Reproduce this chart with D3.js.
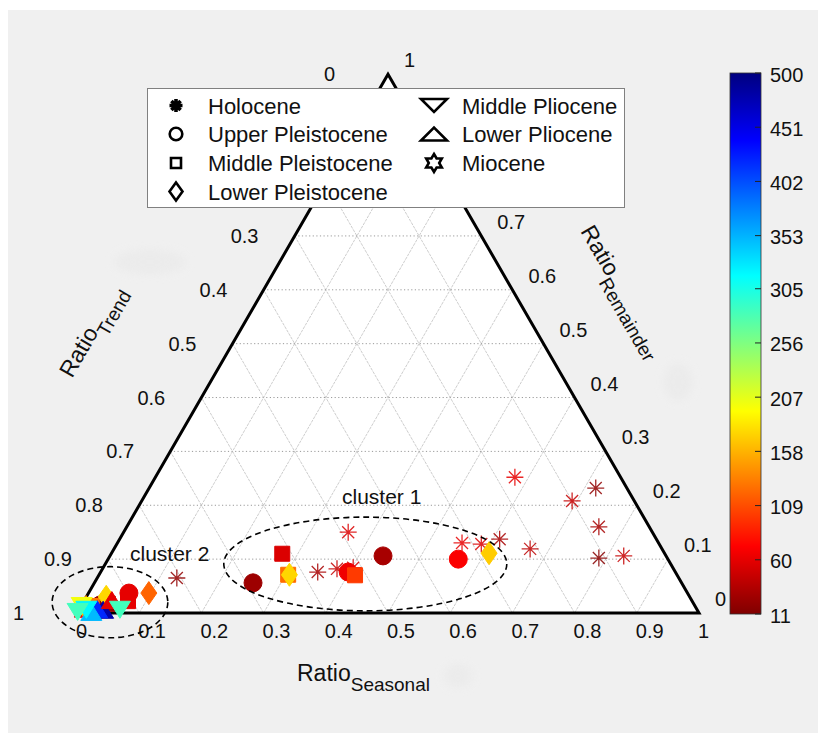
<!DOCTYPE html>
<html>
<head>
<meta charset="utf-8">
<script src="https://cdn.jsdelivr.net/npm/d3@7"></script>
<style>
  html, body { margin: 0; padding: 0; background: #ffffff; }
  svg { display: block; font-family: "Liberation Sans", Arial, sans-serif; }
</style>
</head>
<body>
<svg id="chart" width="826" height="738"></svg>
<script>
// Ternary compositions of the decomposed signal: [seasonal, trend, remainder, age (ka)]
const holocene = [
  [0.128, 0.807, 0.065, 20], [0.361, 0.489, 0.150, 55], [0.349, 0.575, 0.076, 30],
  [0.377, 0.541, 0.082, 45], [0.402, 0.514, 0.084, 50], [0.554, 0.316, 0.130, 60],
  [0.586, 0.286, 0.128, 55], [0.611, 0.252, 0.137, 30], [0.669, 0.212, 0.119, 40],
  [0.578, 0.170, 0.252, 60], [0.692, 0.100, 0.208, 45], [0.718, 0.050, 0.232, 20],
  [0.759, 0.081, 0.160, 30], [0.788, 0.110, 0.102, 15], [0.826, 0.068, 0.106, 45]
];
const upperPleistocene = [
  [0.255, 0.689, 0.056, 25], [0.439, 0.455, 0.106, 30], [0.398, 0.526, 0.076, 65],
  [0.563, 0.337, 0.100, 70], [0.065, 0.898, 0.037, 60], [0.030, 0.955, 0.015, 25]
];
const middlePleistocene = [
  [0.275, 0.615, 0.110, 55], [0.304, 0.625, 0.071, 125], [0.412, 0.518, 0.070, 100],
  [0.071, 0.907, 0.022, 60], [0.022, 0.965, 0.013, 130], [0.041, 0.942, 0.017, 20],
  [0.005, 0.989, 0.006, 70]
];
const lowerPleistocene = [
  [0.306, 0.623, 0.071, 175], [0.607, 0.282, 0.111, 170], [0.097, 0.866, 0.037, 120],
  [0.032, 0.938, 0.030, 175], [0.009, 0.980, 0.011, 140]
];
const lowerPliocene = [
  [0.039, 0.955, 0.006, 480], [0.029, 0.964, 0.007, 420], [0.044, 0.932, 0.024, 60],
  [0.022, 0.976, 0.002, 350]
];
const middlePliocene = [
  [0.001, 0.986, 0.013, 200], [0.012, 0.982, 0.006, 320], [0.000, 0.998, 0.002, 285],
  [0.066, 0.928, 0.006, 285]
];
const miocene = [
  [0.007, 0.984, 0.009, 150]
];

const epochNames = ["Holocene", "Upper Pleistocene", "Middle Pleistocene", "Lower Pleistocene",
                    "Middle Pliocene", "Lower Pliocene", "Miocene"];
const epochShapes = ["asterisk", "circle", "square", "diamond", "triangleDown", "triangleUp", "hexagram"];
const epochData = [holocene, upperPleistocene, middlePleistocene, lowerPleistocene,
                   middlePliocene, lowerPliocene, miocene];
// drawing order of the series (later ones sit on top)
const drawOrder = [0, 1, 2, 3, 6, 5, 4];

const axisTicks = [0, 0.1, 0.2, 0.3, 0.4, 0.5, 0.6, 0.7, 0.8, 0.9, 1];
const axisTickLabels = ["0", "0.1", "0.2", "0.3", "0.4", "0.5", "0.6", "0.7", "0.8", "0.9", "1"];
const ageRange = [11, 500];
const colorbarTicks = [11, 60, 109, 158, 207, 256, 305, 353, 402, 451, 500];

// cluster outlines: centre as [seasonal, remainder], radii in seasonal / remainder units
const clusterNames = ["cluster 1", "cluster 2"];
const clusterCentres = [[0.418, 0.091], [0.043, 0.020]];
const clusterRadii = [[0.2275, 0.087], [0.093, 0.066]];

// ---------------------------------------------------------------------------
const svg = d3.select("#chart");
const defs = svg.append("defs");
defs.append("filter").attr("id", "soft").attr("x", "-50%").attr("y", "-50%")
  .attr("width", "200%").attr("height", "200%")
  .append("feGaussianBlur").attr("stdDeviation", 5);

// figure background
svg.append("rect").attr("x", 8).attr("y", 10).attr("width", 810).attr("height", 723)
  .attr("fill", "#f0f0f0");
// faint worn patches on the backdrop
const patches = svg.append("g").attr("filter", "url(#soft)").attr("fill", "#e9e9e9")
  .attr("opacity", 0.7);
patches.append("ellipse").attr("cx", 150).attr("cy", 262).attr("rx", 36).attr("ry", 12);
patches.append("ellipse").attr("cx", 678).attr("cy", 382).attr("rx", 14).attr("ry", 18);
patches.append("ellipse").attr("cx", 458).attr("cy", 676).attr("rx", 14).attr("ry", 11);

// triangle geometry
const x0 = 77, side = 622, yBase = 613;
const height = side * Math.sqrt(3) / 2;
const xs = d3.scaleLinear().domain([0, 1]).range([x0, x0 + side]);
const ys = d3.scaleLinear().domain([0, 1]).range([yBase, yBase - height]);
// seasonal runs along the base, remainder toward the apex, trend toward bottom-left
const proj = (s, r) => [xs(s + r / 2), ys(r)];

const corners = [proj(0, 0), proj(1, 0), proj(0, 1)];
svg.append("polygon").attr("points", corners.map(p => p.join(",")).join(" "))
  .attr("fill", "#ffffff");

// grid
const grid = svg.append("g");
axisTicks.slice(1, -1).forEach(k => {
  // constant remainder: horizontal dotted
  const a = proj(0, k), b = proj(1 - k, k);
  grid.append("line").attr("x1", a[0]).attr("y1", a[1]).attr("x2", b[0]).attr("y2", b[1])
    .attr("stroke", "#9a9a9a").attr("stroke-width", 1).attr("stroke-dasharray", "1.2,2.4");
  // constant seasonal: parallel to left edge
  const c = proj(k, 0), d = proj(k, 1 - k);
  grid.append("line").attr("x1", c[0]).attr("y1", c[1]).attr("x2", d[0]).attr("y2", d[1])
    .attr("stroke", "#b8b8b8").attr("stroke-width", 0.7).attr("stroke-dasharray", "3,1");
  // constant trend: parallel to right edge
  const e = proj(1 - k, 0), f = proj(0, 1 - k);
  grid.append("line").attr("x1", e[0]).attr("y1", e[1]).attr("x2", f[0]).attr("y2", f[1])
    .attr("stroke", "#b8b8b8").attr("stroke-width", 0.7).attr("stroke-dasharray", "3,1");
});

// triangle outline
svg.append("polygon").attr("points", corners.map(p => p.join(",")).join(" "))
  .attr("fill", "none").attr("stroke", "#000").attr("stroke-width", 3)
  .attr("stroke-linejoin", "miter");

// legend box bounds (tick labels under it are not drawn)
const legendBox = { x: 147.5, y: 88.5, w: 477, h: 119 };
const underLegend = (x, y) => x > legendBox.x - 20 && x < legendBox.x + legendBox.w &&
                               y > legendBox.y && y < legendBox.y + legendBox.h + 14;

// tick labels
const labels = svg.append("g").attr("font-size", 20).attr("fill", "#111");
function tickLabel(x, y, txt) {
  if (underLegend(x, y)) return;
  labels.append("text").attr("x", x).attr("y", y).text(txt);
}
axisTicks.forEach((k, i) => {
  // seasonal (bottom)
  const pb = proj(k, 0);
  tickLabel(pb[0] - 1, pb[1] + 25, axisTickLabels[i]);
  // trend (left): trend k sits on the left edge at remainder 1-k
  const pl = proj(0, 1 - k);
  tickLabel(pl[0] - 64, pl[1] + 7, axisTickLabels[i]);
  // remainder (right)
  const pr = proj(1 - k, k);
  tickLabel(pr[0] + 16, pr[1] - 7, axisTickLabels[i]);
});

// axis titles
function axisTitle(g, main, sub) {
  const t = g.append("text").attr("font-size", 23).attr("fill", "#111");
  t.append("tspan").text(main);
  t.append("tspan").attr("font-size", 19).attr("dy", 10).text(sub);
}
axisTitle(svg.append("g").attr("transform", "translate(297,681)"), "Ratio", "Seasonal");
axisTitle(svg.append("g").attr("transform", "translate(72,379) rotate(-60)"), "Ratio", "Trend");
axisTitle(svg.append("g").attr("transform", "translate(580,231) rotate(60)"), "Ratio", "Remainder");

// jet colour map: 0 -> dark blue, 1 -> dark red
const clamp = v => Math.max(0, Math.min(1, v));
function jet(x) {
  const r = clamp(Math.min(4 * x - 1.5, -4 * x + 4.5));
  const g = clamp(Math.min(4 * x - 0.5, -4 * x + 3.5));
  const b = clamp(Math.min(4 * x + 0.5, -4 * x + 2.5));
  return d3.rgb(r * 255, g * 255, b * 255).formatHex();
}
const ageToUnit = d3.scaleLinear().domain([ageRange[1], ageRange[0]]).range([0, 1]).clamp(true);
const ageColor = a => jet(ageToUnit(a));

// marker shapes
function markerPath(shape, sz) {
  switch (shape) {
    case "circle": {
      const r = sz.r;
      return `M${r},0A${r},${r} 0 1,1 ${-r},0A${r},${r} 0 1,1 ${r},0Z`;
    }
    case "square": {
      const h = sz.h;
      return `M${-h},${-h}H${h}V${h}H${-h}Z`;
    }
    case "diamond":
      return `M0,${-sz.dy}L${sz.dx},0L0,${sz.dy}L${-sz.dx},0Z`;
    case "triangleDown":
      return `M${-sz.tx},${-sz.ty}L${sz.tx},${-sz.ty}L0,${sz.ty}Z`;
    case "triangleUp":
      return `M${-sz.tx},${sz.ty}L${sz.tx},${sz.ty}L0,${-sz.ty}Z`;
    case "hexagram": {
      const R = sz.star, ri = R / Math.sqrt(3);
      const pts = d3.range(12).map(i => {
        const ang = -Math.PI / 2 + i * Math.PI / 6;
        const rad = i % 2 === 0 ? R : ri;
        return [rad * Math.cos(ang), rad * Math.sin(ang)];
      });
      return "M" + pts.map(p => p[0].toFixed(2) + "," + p[1].toFixed(2)).join("L") + "Z";
    }
    case "asterisk": {
      const a = sz.arm, d = a * Math.SQRT1_2;
      return `M${-a},0H${a}M0,${-a}V${a}M${-d},${-d}L${d},${d}M${-d},${d}L${d},${-d}`;
    }
  }
}
const plotSize = { r: 9, h: 7.5, dx: 8, dy: 11.5, tx: 10.5, ty: 8.5, star: 10, arm: 8.5 };
const legendSize = { r: 6.3, h: 5, dx: 6.5, dy: 9, tx: 13, ty: 6.5, star: 9, arm: 6.5 };

// data points
const pts = svg.append("g");
drawOrder.forEach(i => {
  const shape = epochShapes[i];
  pts.selectAll(null).data(epochData[i]).enter().append("path")
    .attr("transform", d => { const p = proj(d[0], d[2]); return `translate(${p[0]},${p[1]})`; })
    .attr("d", markerPath(shape, plotSize))
    .attr("fill", d => shape === "asterisk" ? "none" : ageColor(d[3]))
    .attr("stroke", d => ageColor(d[3]))
    .attr("stroke-width", shape === "asterisk" ? 1.3 : 1)
    .attr("stroke-opacity", shape === "asterisk" ? 0.85 : 1);
});

// cluster outlines and labels
clusterCentres.forEach((c, i) => {
  const p = proj(c[0], c[1]);
  svg.append("ellipse").attr("cx", p[0]).attr("cy", p[1])
    .attr("rx", xs(clusterRadii[i][0]) - xs(0)).attr("ry", ys(0) - ys(clusterRadii[i][1]))
    .attr("fill", "none").attr("stroke", "#000").attr("stroke-width", 1.6)
    .attr("stroke-dasharray", "6,4");
});
svg.append("text").attr("x", 342).attr("y", 504).attr("font-size", 21).attr("fill", "#111")
  .text(clusterNames[0]);
svg.append("text").attr("x", 130).attr("y", 561).attr("font-size", 21).attr("fill", "#111")
  .text(clusterNames[1]);

// legend
const lg = svg.append("g");
lg.append("rect").attr("x", legendBox.x).attr("y", legendBox.y)
  .attr("width", legendBox.w).attr("height", legendBox.h)
  .attr("fill", "#fff").attr("stroke", "#808080").attr("stroke-width", 1);
const rowY = [105.5, 134, 163, 191.5];
epochNames.forEach((name, i) => {
  const col = i < 4 ? 0 : 1;
  const row = i < 4 ? i : i - 4;
  const mx = col === 0 ? 176 : 434;
  const tx = col === 0 ? 208 : 462;
  const shape = epochShapes[i];
  lg.append("path").attr("transform", `translate(${mx},${rowY[row]})`)
    .attr("d", markerPath(shape, legendSize))
    .attr("fill", "none").attr("stroke", "#000")
    .attr("stroke-width", shape === "asterisk" ? 3.6 : 2.6)
    .attr("stroke-linejoin", "miter");
  lg.append("text").attr("x", tx).attr("y", rowY[row] + 8).attr("font-size", 22)
    .attr("fill", "#111").text(name);
});

// colorbar
const cbX = 730, cbW = 31, cbTop = 73, cbBottom = 614;
const cbScale = d3.scaleLinear().domain(ageRange).range([cbBottom, cbTop]);
const grad = defs.append("linearGradient").attr("id", "jetGrad")
  .attr("x1", 0).attr("y1", 1).attr("x2", 0).attr("y2", 0);
d3.range(0, 1.0001, 1 / 32).forEach(f => {
  grad.append("stop").attr("offset", f).attr("stop-color", jet(1 - f));
});
svg.append("rect").attr("x", cbX).attr("y", cbTop).attr("width", cbW).attr("height", cbBottom - cbTop)
  .attr("fill", "url(#jetGrad)").attr("stroke", "#333").attr("stroke-width", 0.8);
const cbAxis = svg.append("g").attr("font-size", 20).attr("fill", "#111");
colorbarTicks.forEach(v => {
  const y = cbScale(v);
  cbAxis.append("line").attr("x1", cbX + cbW - 6).attr("x2", cbX + cbW).attr("y1", y).attr("y2", y)
    .attr("stroke", "#222").attr("stroke-width", 1);
  cbAxis.append("text").attr("x", 770).attr("y", y + 8.5).text(v);
});
</script>
</body>
</html>
